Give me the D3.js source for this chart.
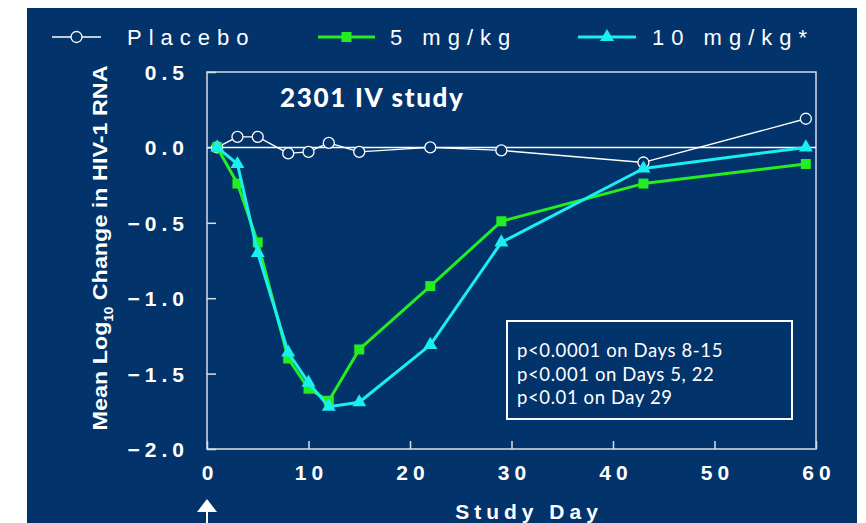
<!DOCTYPE html>
<html>
<head>
<meta charset="utf-8">
<script src="https://cdn.jsdelivr.net/npm/d3@7/dist/d3.min.js"></script>
<style>
  html, body { margin: 0; padding: 0; background: #ffffff; }
  svg { display: block; }
</style>
</head>
<body>
<svg id="chart" width="866" height="523"></svg>
<script>
// Study days at which HIV-1 RNA was measured
const days = [1, 3, 5, 8, 10, 12, 15, 22, 29, 43, 59];

// Mean log10 change from baseline, by treatment arm
const placebo = [0.0, 0.07, 0.07, -0.04, -0.03, 0.03, -0.03, 0.0, -0.02, -0.10, 0.19];
const dose5   = [0.0, -0.24, -0.63, -1.40, -1.60, -1.68, -1.34, -0.92, -0.49, -0.24, -0.11];
const dose10  = [0.0, -0.11, -0.70, -1.36, -1.56, -1.72, -1.69, -1.31, -0.63, -0.14, 0.0];

const xTicks = [0, 10, 20, 30, 40, 50, 60];
const yTicks = [0.5, 0.0, -0.5, -1.0, -1.5, -2.0];

const seriesNames = ["Placebo", "5 mg/kg", "10 mg/kg*"];
const pNotes = ["p<0.0001 on Days 8-15", "p<0.001 on Days 5, 22", "p<0.01 on Day 29"];

const BG = "#02336a";
const GREEN = "#22ee22";
const CYAN = "#19eef0";

const svg = d3.select("#chart");

// dark slide panel
svg.append("rect").attr("x", 27).attr("y", 8).attr("width", 830).attr("height", 515).attr("fill", BG);

const plot = { left: 207, right: 816, top: 72, bottom: 449 };
const x = d3.scaleLinear().domain([0, 60]).range([plot.left, plot.right]);
const y = d3.scaleLinear().domain([-2, 0.5]).range([plot.bottom, plot.top]);

// frame
svg.append("rect")
  .attr("x", plot.left).attr("y", plot.top)
  .attr("width", plot.right - plot.left).attr("height", plot.bottom - plot.top)
  .attr("fill", "none").attr("stroke", "#d8dde6").attr("stroke-width", 1.5);
svg.append("line")
  .attr("x1", plot.left).attr("x2", plot.right)
  .attr("y1", plot.bottom).attr("y2", plot.bottom)
  .attr("stroke", "#a9b6c6").attr("stroke-width", 2);

// zero reference line
svg.append("line")
  .attr("x1", plot.left).attr("x2", plot.right)
  .attr("y1", y(0)).attr("y2", y(0))
  .attr("stroke", "#ffffff").attr("stroke-width", 1.5);

const axisFont = sel => sel
  .attr("fill", "#ffffff")
  .style("font-family", "'Liberation Sans', Arial, sans-serif")
  .style("font-weight", "bold").style("font-size", "21px").style("letter-spacing", "5px");

// axes with inward ticks
const yAxis = d3.axisLeft(y).tickValues(yTicks).tickSize(-9).tickFormat(d3.format(".1f"));
const gy = svg.append("g").attr("transform", `translate(${plot.left},0)`).call(yAxis);
gy.select(".domain").remove();
gy.selectAll(".tick line").attr("stroke", "#d8dde6").attr("stroke-width", 1.5);
gy.selectAll(".tick text").attr("x", -18).attr("dy", "0.36em").call(axisFont);

const xAxis = d3.axisBottom(x).tickValues(xTicks).tickSize(-8).tickFormat(d3.format("d"));
const gx = svg.append("g").attr("transform", `translate(0,${plot.bottom})`).call(xAxis);
gx.select(".domain").remove();
gx.selectAll(".tick line").attr("stroke", "#d8dde6").attr("stroke-width", 1.5);
gx.selectAll(".tick text").attr("y", 31).attr("dy", "0em").attr("dx", "2.5px").call(axisFont);

// axis titles
svg.append("text")
  .attr("x", 529).attr("y", 519).attr("text-anchor", "middle")
  .call(axisFont)
  .text("Study Day");

const yTitle = svg.append("text")
  .attr("transform", "translate(107,248) rotate(-90)")
  .attr("text-anchor", "middle")
  .attr("fill", "#ffffff")
  .style("font-family", "'Liberation Sans', Arial, sans-serif")
  .style("font-weight", "bold").style("font-size", "21px");
yTitle.append("tspan").text("Mean Log");
yTitle.append("tspan").attr("dy", 6).style("font-size", "12px").text("10");
yTitle.append("tspan").attr("dy", -6).text(" Change in HIV-1 RNA");
yTitle.attr("textLength", 365).attr("lengthAdjust", "spacingAndGlyphs");

// chart title
svg.append("text")
  .attr("x", 280).attr("y", 107)
  .attr("fill", "#ffffff")
  .style("font-family", "Lato, 'Open Sans', sans-serif")
  .style("font-weight", "900").style("font-size", "26px").style("letter-spacing", "1.7px")
  .text("2301 IV study");

// data lines and markers
const pts = vals => days.map((d, i) => [d, vals[i]]);
const line = d3.line().x(d => x(d[0])).y(d => y(d[1]));

function drawSeries(vals, color, width, marker) {
  svg.append("path").datum(pts(vals))
    .attr("d", line).attr("fill", "none")
    .attr("stroke", color).attr("stroke-width", width).attr("stroke-linejoin", "round");
  const g = svg.append("g");
  pts(vals).forEach(p => marker(g, x(p[0]), y(p[1])));
}

const circleMarker = (g, cx, cy) => g.append("circle")
  .attr("cx", cx).attr("cy", cy).attr("r", 5.5)
  .attr("fill", BG).attr("stroke", "#ffffff").attr("stroke-width", 1.3);
const squareMarker = (g, cx, cy) => g.append("rect")
  .attr("x", cx - 5).attr("y", cy - 5).attr("width", 10).attr("height", 10)
  .attr("fill", GREEN);
const triSym = d3.symbol().type(d3.symbolTriangle).size(85);
const triMarker = (g, cx, cy) => g.append("path")
  .attr("d", triSym).attr("transform", `translate(${cx},${cy})`)
  .attr("fill", CYAN);

drawSeries(placebo, "#ffffff", 1.3, circleMarker);
drawSeries(dose5, GREEN, 3, squareMarker);
drawSeries(dose10, CYAN, 3, triMarker);

// legend
const legend = [
  { x0: 52, x1: 101, tx: 127, color: "#ffffff", w: 1.3, marker: circleMarker },
  { x0: 318, x1: 375, tx: 390, color: GREEN, w: 3, marker: squareMarker },
  { x0: 578, x1: 636, tx: 652, color: CYAN, w: 3, marker: triMarker }
];
legend.forEach((l, i) => {
  svg.append("line").attr("x1", l.x0).attr("x2", l.x1).attr("y1", 37).attr("y2", 37)
    .attr("stroke", l.color).attr("stroke-width", l.w);
  l.marker(svg, (l.x0 + l.x1) / 2, 37);
  svg.append("text").attr("x", l.tx).attr("y", 45)
    .attr("fill", "#ffffff")
    .style("font-family", "'Liberation Sans', Arial, sans-serif")
    .style("font-size", "22px").style("letter-spacing", "7px")
    .text(seriesNames[i]);
});

// significance box
svg.append("rect").attr("x", 507).attr("y", 321).attr("width", 285).attr("height", 98)
  .attr("fill", "none").attr("stroke", "#ffffff").attr("stroke-width", 2);
pNotes.forEach((t, i) => {
  svg.append("text").attr("x", 517).attr("y", 357 + i * 23.5)
    .attr("fill", "#ffffff")
    .style("font-family", "Lato, 'Open Sans', sans-serif")
    .style("font-size", "18.5px").style("letter-spacing", "0.6px")
    .text(t);
});

// dosing arrow at day 0
const ax = x(0);
svg.append("line").attr("x1", ax).attr("x2", ax).attr("y1", 510).attr("y2", 523)
  .attr("stroke", "#ffffff").attr("stroke-width", 2);
svg.append("path")
  .attr("d", `M${ax},499 L${ax + 10},512 L${ax - 10},512 Z`)
  .attr("fill", "#ffffff");
</script>
</body>
</html>
